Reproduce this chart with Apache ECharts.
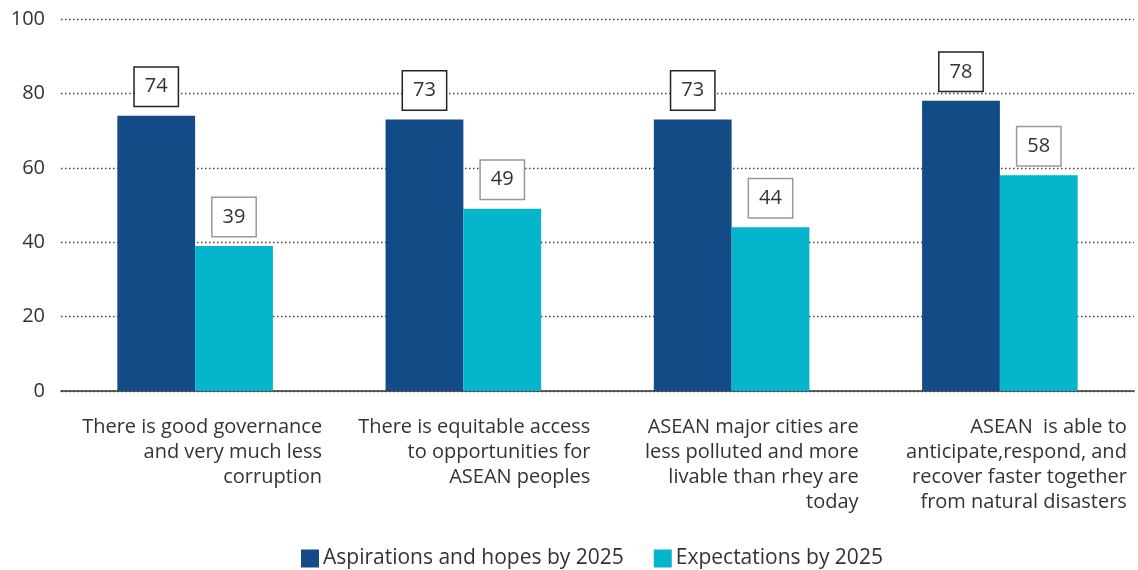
<!DOCTYPE html>
<html>
<head>
<meta charset="utf-8">
<script src="https://cdn.jsdelivr.net/npm/echarts@6/dist/echarts.min.js"></script>
<style>
  html, body { margin: 0; padding: 0; background: #fff; }
  #chart { width: 1138px; height: 570px; }
</style>
</head>
<body>
<div id="chart"></div>
<script>
var categories = [
  'There is good governance\nand very much less\ncorruption',
  'There is equitable access\nto opportunities for\nASEAN peoples',
  'ASEAN major cities are\nless polluted and more\nlivable than rhey are\ntoday',
  'ASEAN  is able to\nanticipate,respond, and\nrecover faster together\nfrom natural disasters'
];
var aspirations = [74, 73, 73, 78];
var expectations = [39, 49, 44, 58];
var seriesNames = ['Aspirations and hopes by 2025', 'Expectations by 2025'];

var font = '"Open Sans", "Noto Sans", sans-serif';

var dom = document.getElementById('chart');
var myChart = echarts.init(dom, null, { renderer: 'canvas' });

var option = {
  animation: false,
  textStyle: { fontFamily: font },
  grid: { left: 61, right: 4, top: 19, bottom: 179 },
  legend: {
    data: seriesNames,
    left: 296,
    top: 543,
    itemWidth: 18,
    itemHeight: 18,
    itemGap: 30,
    icon: 'rect',
    textStyle: { fontSize: 21, color: '#333', fontFamily: font, padding: [0, 0, 0, -1] }
  },
  xAxis: {
    type: 'category',
    data: categories,
    axisTick: { show: false },
    axisLine: { lineStyle: { color: '#333', width: 1.5 } },
    axisLabel: {
      fontSize: 20,
      lineHeight: 25,
      color: '#333',
      align: 'right',
      margin: 24,
      interval: 0,
      padding: [0, -127, 0, 0]
    }
  },
  yAxis: {
    type: 'value',
    min: 0,
    max: 100,
    interval: 20,
    axisLine: { show: false },
    axisTick: { show: false },
    axisLabel: { fontSize: 20, color: '#333', margin: 16 },
    splitLine: { lineStyle: { type: [1.5, 2.5], color: '#444', width: 1.3 } }
  },
  series: [
    {
      name: seriesNames[0],
      type: 'bar',
      data: aspirations,
      barGap: '0%',
      barCategoryGap: '42%',
      itemStyle: { color: '#134B86' },
      label: {
        show: true,
        position: 'top',
        distance: 10,
        fontSize: 20,
        lineHeight: 20,
        color: '#333',
        borderColor: '#222',
        borderWidth: 1.5,
        padding: [9, 10],
        backgroundColor: '#fff'
      }
    },
    {
      name: seriesNames[1],
      type: 'bar',
      data: expectations,
      itemStyle: { color: '#05B5CB' },
      label: {
        show: true,
        position: 'top',
        distance: 10,
        fontSize: 20,
        lineHeight: 20,
        color: '#333',
        borderColor: '#999',
        borderWidth: 1.5,
        padding: [9, 10],
        backgroundColor: '#fff'
      }
    }
  ]
};

if (option && typeof option === 'object') {
  myChart.setOption(option);
}

window.addEventListener('resize', myChart.resize);
</script>
</body>
</html>
